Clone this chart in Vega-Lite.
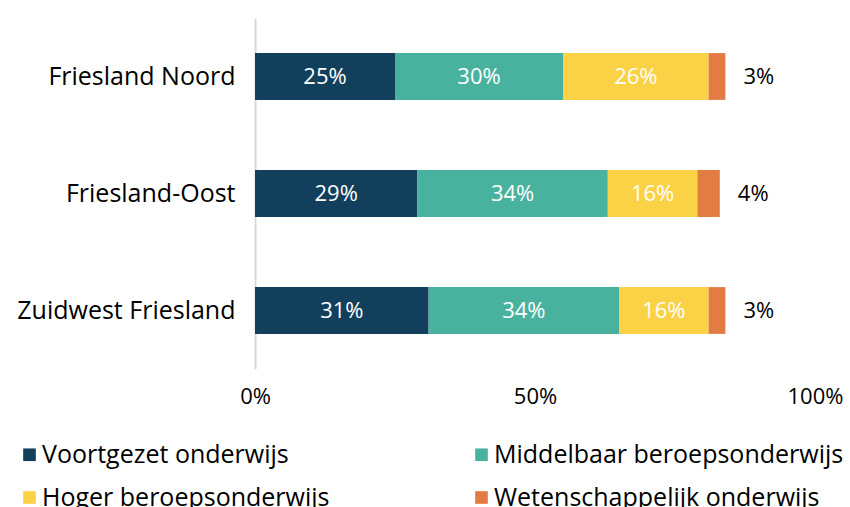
{
  "$schema": "https://vega.github.io/schema/vega-lite/v6.json",
  "width": 560,
  "height": 351,
  "autosize": {"type": "none"},
  "padding": {"left": 255, "top": 18, "right": 35, "bottom": 138},
  "background": "white",
  "config": {
    "view": {"stroke": null},
    "font": "Open Sans",
    "text": {"font": "Open Sans"}
  },
  "data": {
    "values": [
      {"region": "Friesland Noord", "category": "Voortgezet onderwijs", "order": 1, "value": 0.25},
      {"region": "Friesland Noord", "category": "Middelbaar beroepsonderwijs", "order": 2, "value": 0.30},
      {"region": "Friesland Noord", "category": "Hoger beroepsonderwijs", "order": 3, "value": 0.26},
      {"region": "Friesland Noord", "category": "Wetenschappelijk onderwijs", "order": 4, "value": 0.03},
      {"region": "Friesland-Oost", "category": "Voortgezet onderwijs", "order": 1, "value": 0.29},
      {"region": "Friesland-Oost", "category": "Middelbaar beroepsonderwijs", "order": 2, "value": 0.34},
      {"region": "Friesland-Oost", "category": "Hoger beroepsonderwijs", "order": 3, "value": 0.16},
      {"region": "Friesland-Oost", "category": "Wetenschappelijk onderwijs", "order": 4, "value": 0.04},
      {"region": "Zuidwest Friesland", "category": "Voortgezet onderwijs", "order": 1, "value": 0.31},
      {"region": "Zuidwest Friesland", "category": "Middelbaar beroepsonderwijs", "order": 2, "value": 0.34},
      {"region": "Zuidwest Friesland", "category": "Hoger beroepsonderwijs", "order": 3, "value": 0.16},
      {"region": "Zuidwest Friesland", "category": "Wetenschappelijk onderwijs", "order": 4, "value": 0.03}
    ]
  },
  "transform": [
    {"stack": "value", "groupby": ["region"], "sort": [{"field": "order"}], "as": ["x0", "x1"]}
  ],
  "encoding": {
    "y": {
      "field": "region",
      "type": "nominal",
      "sort": ["Friesland Noord", "Friesland-Oost", "Zuidwest Friesland"],
      "scale": {"paddingInner": 0.6, "paddingOuter": 0.3},
      "axis": {
        "title": null,
        "ticks": false,
        "domainColor": "#d9d9d9",
        "domainWidth": 2,
        "labelFontSize": 25,
        "labelColor": "#000000",
        "labelPadding": 20,
        "labelLimit": 300,
        "labelFont": "Open Sans"
      }
    }
  },
  "layer": [
    {
      "mark": {"type": "bar"},
      "encoding": {
        "x": {
          "field": "x0",
          "type": "quantitative",
          "scale": {"domain": [0, 1]},
          "axis": {
            "title": null,
            "values": [0, 0.5, 1],
            "format": ".0%",
            "grid": false,
            "domain": false,
            "ticks": false,
            "labelFlush": false,
            "labelFontSize": 22,
            "labelColor": "#000000",
            "labelPadding": 17,
            "labelFont": "Open Sans"
          }
        },
        "x2": {"field": "x1"},
        "color": {
          "field": "category",
          "type": "nominal",
          "sort": ["Voortgezet onderwijs", "Middelbaar beroepsonderwijs", "Hoger beroepsonderwijs", "Wetenschappelijk onderwijs"],
          "scale": {
            "domain": ["Voortgezet onderwijs", "Middelbaar beroepsonderwijs", "Hoger beroepsonderwijs", "Wetenschappelijk onderwijs"],
            "range": ["#12405c", "#49b29e", "#fbd246", "#e37c42"]
          },
          "legend": {
            "title": null,
            "orient": "none",
            "legendX": -238,
            "legendY": 424,
            "direction": "horizontal",
            "columns": 2,
            "columnPadding": 139,
            "rowPadding": 17,
            "symbolType": "square",
            "symbolSize": 160,
            "symbolStrokeWidth": 0,
            "labelFontSize": 25,
            "labelFont": "Open Sans",
            "labelColor": "#000000",
            "labelOffset": 0,
            "labelLimit": 500
          }
        }
      }
    },
    {
      "transform": [
        {"filter": "datum.category !== 'Wetenschappelijk onderwijs'"},
        {"fold": ["x0", "x1"], "as": ["edge", "pos"]},
        {"aggregate": [{"op": "mean", "field": "pos", "as": "mid"}, {"op": "max", "field": "value", "as": "value"}], "groupby": ["region", "category"]}
      ],
      "mark": {"type": "text", "fontSize": 22, "color": "white"},
      "encoding": {
        "x": {"field": "mid", "type": "quantitative"},
        "text": {"field": "value", "type": "quantitative", "format": ".0%"}
      }
    },
    {
      "transform": [
        {"filter": "datum.category === 'Wetenschappelijk onderwijs'"}
      ],
      "mark": {"type": "text", "fontSize": 22, "color": "black", "align": "left", "dx": 18},
      "encoding": {
        "x": {"field": "x1", "type": "quantitative"},
        "text": {"field": "value", "type": "quantitative", "format": ".0%"}
      }
    }
  ]
}
